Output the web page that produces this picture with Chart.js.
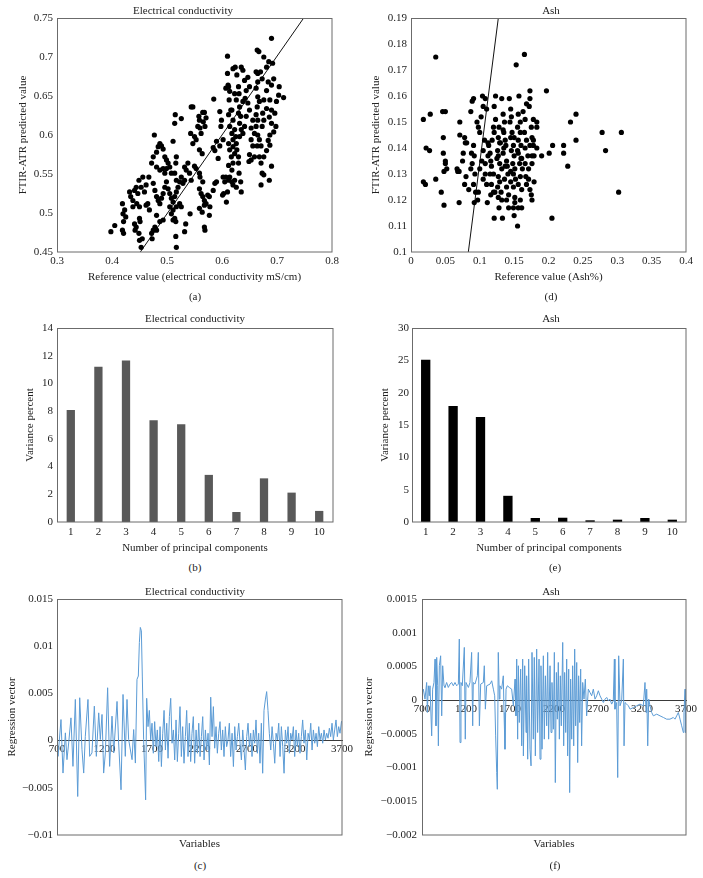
<!DOCTYPE html>
<html>
<head>
<meta charset="utf-8">
<title>FTIR-ATR PLS results</title>
<script src="https://cdn.jsdelivr.net/npm/chart.js@4.4.1/dist/chart.umd.min.js"></script>
<style>
  html, body { margin: 0; padding: 0; background: #fff; }
  #page { position: relative; width: 703px; height: 878px; overflow: hidden; background: #fff; }
  .panel { position: absolute; }
  .tag {
    position: absolute; width: 40px; margin-left: -20px; text-align: center;
    font: 11px/13px "Liberation Serif", "Times New Roman", serif; color: #222;
  }
</style>
</head>
<body>
<div id="page">
  <div class="panel" style="left:0;top:0;width:366px;height:284px"><canvas id="chartA"></canvas></div>
  <div class="panel" style="left:352px;top:0;width:398px;height:284px"><canvas id="chartD"></canvas></div>
  <div class="panel" style="left:0;top:300px;width:390px;height:255px"><canvas id="chartB"></canvas></div>
  <div class="panel" style="left:352px;top:300px;width:398px;height:255px"><canvas id="chartE"></canvas></div>
  <div class="panel" style="left:0;top:575px;width:390px;height:276px"><canvas id="chartC"></canvas></div>
  <div class="panel" style="left:352px;top:575px;width:398px;height:276px"><canvas id="chartF"></canvas></div>

  <div class="tag" style="left:195px;top:290px">(a)</div>
  <div class="tag" style="left:551px;top:290px">(d)</div>
  <div class="tag" style="left:195px;top:561px">(b)</div>
  <div class="tag" style="left:555px;top:561px">(e)</div>
  <div class="tag" style="left:200px;top:859px">(c)</div>
  <div class="tag" style="left:555px;top:859px">(f)</div>
</div>

<script>
// ---- (a) electrical conductivity: reference vs predicted ----
const ecRef = [
  0.398,0.405,0.419,0.420,0.421,0.419,0.421,0.423,0.425,0.432,
  0.434,0.438,0.441,0.444,0.445,0.449,0.447,0.450,0.453,0.456,
  0.459,0.462,0.438,0.441,0.442,0.444,0.450,0.451,0.449,0.450,
  0.453,0.455,0.472,0.475,0.478,0.481,0.473,0.465,0.468,0.462,
  0.467,0.472,0.475,0.477,0.481,0.484,0.487,0.490,0.493,0.496,
  0.499,0.481,0.487,0.493,0.496,0.499,0.502,0.505,0.508,0.511,
  0.475,0.478,0.481,0.484,0.487,0.490,0.493,0.496,0.499,0.502,
  0.505,0.508,0.511,0.514,0.517,0.520,0.517,0.514,0.523,0.526,
  0.529,0.532,0.517,0.516,0.514,0.515,0.526,0.508,0.511,0.514,
  0.516,0.493,0.487,0.481,0.505,0.511,0.517,0.523,0.526,0.516,
  0.517,0.532,0.534,0.542,0.532,0.535,0.538,0.543,0.544,0.547,
  0.550,0.547,0.553,0.556,0.558,0.559,0.560,0.562,0.565,0.568,
  0.571,0.566,0.569,0.559,0.564,0.550,0.553,0.541,0.544,0.559,
  0.560,0.565,0.559,0.562,0.565,0.568,0.571,0.574,0.559,0.564,
  0.568,0.577,0.578,0.577,0.568,0.569,0.584,0.587,0.590,0.584,
  0.587,0.590,0.585,0.596,0.599,0.598,0.602,0.596,0.593,0.602,
  0.605,0.607,0.601,0.603,0.608,0.610,0.610,0.611,0.607,0.612,
  0.614,0.613,0.616,0.612,0.618,0.620,0.614,0.618,0.620,0.612,
  0.614,0.617,0.620,0.618,0.612,0.614,0.618,0.620,0.623,0.626,
  0.612,0.610,0.623,0.625,0.626,0.627,0.630,0.623,0.620,0.624,
  0.620,0.627,0.630,0.631,0.623,0.626,0.632,0.630,0.634,0.632,
  0.635,0.632,0.630,0.631,0.634,0.635,0.638,0.641,0.644,0.638,
  0.642,0.635,0.638,0.641,0.644,0.647,0.650,0.647,0.650,0.653,
  0.656,0.659,0.653,0.656,0.650,0.649,0.653,0.659,0.662,0.665,
  0.664,0.667,0.670,0.673,0.665,0.662,0.665,0.668,0.664,0.662,
  0.665,0.662,0.665,0.668,0.664,0.671,0.668,0.671,0.673,0.676,
  0.674,0.681,0.676,0.681,0.684,0.681,0.676,0.685,0.690,0.692,
  0.694,0.690,0.687,0.690,0.686,0.690,0.687,0.684,0.687,0.681,
  0.676,0.673,0.676,0.671,0.686,0.690,0.696,0.698,0.694,0.699,
  0.704,0.703,0.712
];
const ecPred = [
  0.476,0.484,0.512,0.499,0.489,0.478,0.474,0.504,0.495,0.527,
  0.521,0.516,0.529,0.533,0.512,0.542,0.525,0.508,0.533,0.546,
  0.527,0.536,0.508,0.486,0.478,0.482,0.493,0.489,0.474,0.465,
  0.456,0.467,0.474,0.478,0.482,0.478,0.467,0.512,0.504,0.510,
  0.546,0.564,0.572,0.600,0.578,0.585,0.589,0.586,0.582,0.572,
  0.568,0.559,0.555,0.557,0.551,0.557,0.564,0.559,0.551,0.592,
  0.538,0.529,0.521,0.516,0.512,0.519,0.525,0.533,0.540,0.531,
  0.525,0.519,0.514,0.521,0.527,0.533,0.542,0.551,0.540,0.546,
  0.538,0.542,0.572,0.564,0.615,0.626,0.621,0.499,0.491,0.493,
  0.489,0.491,0.489,0.497,0.508,0.504,0.508,0.512,0.508,0.470,
  0.456,0.476,0.486,0.499,0.559,0.555,0.564,0.602,0.636,0.636,
  0.598,0.589,0.594,0.611,0.624,0.619,0.609,0.602,0.629,0.629,
  0.622,0.617,0.611,0.581,0.576,0.560,0.557,0.551,0.542,0.551,
  0.546,0.540,0.531,0.525,0.521,0.516,0.512,0.523,0.506,0.501,
  0.510,0.521,0.508,0.497,0.482,0.478,0.529,0.538,0.540,0.584,
  0.580,0.592,0.646,0.630,0.619,0.611,0.594,0.586,0.570,0.546,
  0.540,0.546,0.523,0.525,0.514,0.701,0.679,0.664,0.660,0.662,
  0.656,0.645,0.632,0.626,0.632,0.619,0.611,0.602,0.594,0.589,
  0.581,0.572,0.564,0.555,0.561,0.546,0.540,0.536,0.542,0.533,
  0.542,0.527,0.607,0.598,0.589,0.581,0.572,0.576,0.585,0.687,
  0.685,0.677,0.662,0.653,0.653,0.645,0.636,0.628,0.624,0.615,
  0.607,0.598,0.564,0.551,0.540,0.527,0.602,0.611,0.624,0.643,
  0.647,0.687,0.683,0.670,0.657,0.674,0.662,0.641,0.632,0.609,
  0.619,0.602,0.594,0.586,0.575,0.566,0.568,0.572,0.681,0.679,
  0.709,0.707,0.681,0.672,0.668,0.660,0.649,0.643,0.636,0.626,
  0.619,0.611,0.600,0.594,0.586,0.586,0.572,0.564,0.611,0.619,
  0.628,0.634,0.645,0.657,0.668,0.687,0.700,0.694,0.724,0.692,
  0.672,0.664,0.645,0.632,0.623,0.615,0.600,0.593,0.587,0.580,
  0.572,0.551,0.549,0.536,0.542,0.560,0.628,0.611,0.604,0.643,
  0.662,0.651,0.648
];
// trend line end points
const ecFitX = [0.4515, 0.7485];
const ecFitY = [0.45, 0.75];

// ---- (d) ash: reference vs predicted ----
const ashRef = [
  0.036,0.018,0.028,0.022,0.027,0.018,0.021,0.036,0.044,0.048,
  0.046,0.050,0.047,0.047,0.050,0.050,0.052,0.048,0.067,0.068,
  0.070,0.071,0.071,0.070,0.075,0.076,0.078,0.079,0.081,0.080,
  0.078,0.084,0.087,0.089,0.091,0.091,0.088,0.089,0.092,0.087,
  0.093,0.091,0.094,0.092,0.097,0.098,0.096,0.098,0.100,0.102,
  0.104,0.105,0.108,0.110,0.107,0.105,0.103,0.100,0.108,0.108,
  0.105,0.110,0.111,0.112,0.113,0.115,0.116,0.112,0.117,0.120,
  0.115,0.117,0.120,0.116,0.122,0.121,0.123,0.121,0.123,0.120,
  0.121,0.127,0.129,0.126,0.127,0.129,0.132,0.127,0.129,0.126,
  0.131,0.127,0.132,0.128,0.133,0.132,0.134,0.136,0.134,0.137,
  0.138,0.134,0.139,0.137,0.141,0.136,0.139,0.142,0.139,0.142,
  0.143,0.145,0.146,0.144,0.147,0.145,0.149,0.146,0.150,0.148,
  0.151,0.149,0.152,0.149,0.151,0.149,0.151,0.150,0.155,0.153,
  0.156,0.157,0.159,0.155,0.159,0.156,0.160,0.156,0.161,0.158,
  0.162,0.159,0.156,0.161,0.159,0.156,0.161,0.165,0.163,0.166,
  0.168,0.165,0.168,0.166,0.170,0.166,0.171,0.167,0.171,0.168,
  0.173,0.173,0.172,0.175,0.176,0.173,0.176,0.178,0.183,0.183,
  0.178,0.178,0.183,0.179,0.176,0.173,0.175,0.176,0.179,0.190,
  0.197,0.201,0.206,0.205,0.222,0.222,0.228,0.232,0.240,0.240,
  0.278,0.283,0.302,0.306,
  0.125,0.135,0.145,0.155,0.130,0.140,0.150,0.160,0.135,0.145,0.118,0.128
];
const ashPred = [
  0.175,0.151,0.153,0.140,0.139,0.127,0.126,0.128,0.123,0.118,
  0.154,0.154,0.144,0.138,0.135,0.134,0.132,0.131,0.132,0.131,
  0.131,0.150,0.145,0.119,0.135,0.138,0.144,0.142,0.142,0.129,
  0.126,0.124,0.154,0.158,0.159,0.141,0.138,0.134,0.137,0.132,
  0.130,0.126,0.123,0.119,0.120,0.123,0.150,0.148,0.146,0.152,
  0.160,0.156,0.159,0.155,0.143,0.139,0.135,0.132,0.134,0.130,
  0.128,0.126,0.119,0.142,0.141,0.138,0.135,0.137,0.133,0.130,
  0.130,0.126,0.123,0.122,0.123,0.113,0.160,0.156,0.151,0.148,
  0.146,0.144,0.142,0.139,0.137,0.134,0.132,0.129,0.127,0.125,
  0.123,0.121,0.120,0.117,0.113,0.159,0.153,0.150,0.147,0.143,
  0.141,0.138,0.135,0.133,0.130,0.128,0.125,0.122,0.120,0.117,
  0.159,0.155,0.152,0.150,0.146,0.144,0.141,0.139,0.137,0.134,
  0.132,0.130,0.128,0.125,0.121,0.117,0.119,0.114,0.110,0.172,
  0.153,0.160,0.150,0.148,0.146,0.143,0.141,0.138,0.136,0.134,
  0.132,0.129,0.126,0.124,0.120,0.117,0.117,0.176,0.154,0.151,
  0.157,0.146,0.143,0.140,0.137,0.134,0.132,0.129,0.128,0.126,
  0.162,0.159,0.156,0.148,0.144,0.141,0.137,0.151,0.150,0.148,
  0.143,0.141,0.140,0.137,0.134,0.124,0.122,0.120,0.127,0.137,
  0.162,0.138,0.141,0.113,0.141,0.138,0.133,0.150,0.153,0.143,
  0.146,0.139,0.123,0.146,
  0.136,0.140,0.131,0.139,0.142,0.133,0.144,0.136,0.146,0.127,0.143,0.148
];
const ashFitX = [0.0834, 0.127];
const ashFitY = [0.10, 0.19];

// ---- (b), (e) variance per principal component ----
const components = ['1', '2', '3', '4', '5', '6', '7', '8', '9', '10'];
const ecVariance = [8.08, 11.2, 11.65, 7.35, 7.05, 3.4, 0.72, 3.15, 2.12, 0.8];
const ashVariance = [25.1, 17.95, 16.25, 4.05, 0.62, 0.66, 0.26, 0.36, 0.62, 0.36];

// ---- (c) electrical conductivity regression vector ----
const ecVarX = [
  700,711,742,763,788,805,823,847,868,893,
  918,939,963,981,998,1026,1044,1068,1093,1114,
  1139,1156,1174,1191,1209,1233,1254,1279,1297,1332,
  1349,1374,1395,1419,1437,1454,1490,1507,1525,1542,
  1556,1567,1577,1588,1598,1612,1633,
  1644,1658,1672,1686,1700,1714,1728,1742,1756,1771,
  1785,1799,1813,1827,1841,1855,1869,1883,1897,1911,
  1925,1939,1953,1967,1981,1995,2009,2023,2037,2051,
  2065,2079,2093,2107,2121,2135,2149,2164,2178,2192,
  2206,2220,2234,2248,2262,2276,2290,2304,2318,2332,
  2346,2360,2374,2388,2402,2416,2430,2444,2458,2472,
  2486,2500,2514,2528,2543,2557,2571,2585,2599,2613,
  2627,2641,2655,2669,2683,2697,
  2711,2725,2739,2753,2767,2781,2795,2809,2823,2837,
  2851,2865,2879,2893,2907,2921,2935,2950,2964,2978,
  2992,3006,3020,3034,3048,3062,3076,3090,3104,3118,
  3132,3146,3160,3174,3188,3202,3216,3230,3244,3258,
  3272,3286,3300,3314,3329,3343,3357,3371,3385,3399,
  3413,3427,3441,3455,3469,3483,3497,3511,3525,3539,
  3553,3567,3581,3595,3609,3623,3637,3651,3665,3679,
  3695
];
const ecVector = [
  0.00046,-0.00167,0.00223,-0.00344,0.00082,-0.00202,-0.00025,0.00241,-0.00273,0.00436,
  -0.00592,0.00454,-0.00096,-0.00344,0.00046,0.00436,-0.00167,-0.00131,0.00365,-0.00167,
  0.00294,0.00011,0.00277,-0.00344,-0.00131,0.0056,-0.00273,0.00259,-0.00131,0.00415,
  -0.00025,-0.00521,0.00489,-0.00167,0.00436,0.00011,-0.00202,0.00117,-0.00238,0.00649,
  0.00684,0.01039,0.01199,0.01163,0.00684,0.00011,-0.00628,
  0.00448,0.00148,0.0032,0.00007,0.00184,-0.00134,0.00201,-0.00064,0.00113,-0.00222,
  0.00148,-0.00275,0.00078,0.0032,-0.001,0.00184,-0.00187,0.00254,0.00448,-0.00028,
  0.00113,-0.00205,0.00219,-0.00222,0.00078,0.0036,-0.00169,0.00148,-0.0024,0.00042,
  0.0032,-0.00169,0.00184,-0.00222,0.00078,0.00254,-0.0024,0.00113,-0.00134,0.00184,
  -0.00169,0.00042,0.00254,-0.00205,0.00113,-0.001,0.00078,-0.00258,0.0046,0.00042,
  0.0036,-0.00081,0.00148,-0.00134,0.00078,0.00201,-0.001,0.00113,-0.00169,0.00148,
  -0.00064,0.00007,0.00184,-0.00169,0.00078,-0.00275,0.00148,-0.001,0.00042,0.00184,
  -0.00028,-0.00205,0.00113,-0.001,-0.00311,0.00042,
  0.00184,-0.00064,0.00078,-0.00169,0.00113,-0.00028,0.00219,-0.00134,0.00078,-0.0024,
  0.00184,-0.00346,0.0032,0.00431,0.00519,0.0032,0.00078,-0.001,0.00148,-0.00028,
  -0.0024,0.00078,0.00007,0.00184,-0.00169,0.00148,-0.00064,-0.00346,0.00113,-0.00028,
  0.00148,-0.00134,0.00078,0.00007,0.00148,-0.00169,0.00113,-0.00064,0.00078,-0.00134,
  0.00042,0.00219,-0.00028,0.00113,-0.00205,0.00078,0.00007,0.00184,-0.001,0.00113,
  -0.00028,0.00078,-0.00064,0.00148,0.00007,0.00078,-0.00028,0.00113,0.00007,0.00078,
  0.00025,0.00131,0.00042,0.00184,0.00007,0.00113,0.00219,0.00042,0.00148,0.00078,
  0.00206
];

// ---- (f) ash regression vector ----
const ashVarX = [
  700,715,734,753,761,772,783,791,810,821,
  836,848,859,867,878,886,897,912,924,935,
  950,961,980,999,1018,1037,1056,1075,1094,1113,
  1124,1132,1143,1158,1181,1192,1200,1227,1245,1264,
  1276,1283,1302,1329,1340,1352,1367,1397,1408,1420,
  1435,1473,1492,1511,1526,1537,1549,1556,1567,1579,
  1586,1605,1624,1632,1643,1655,1670,1692,1719,1738,
  1757,1768,1776,1787,1795,1806,1821,1833,1844,1852,
  1867,1882,1889,1901,1912,1927,1939,1950,1965,1976,
  1988,2003,2014,2030,2041,2052,2064,2079,2090,2102,
  2117,2128,2139,2155,2166,2177,2193,2204,2215,2227,
  2238,2249,2261,2272,2283,2299,2310,2321,2333,2344,
  2355,2367,2378,2389,2401,2412,2424,2435,2446,2458,
  2469,2480,2492,2503,2514,2526,2541,2556,2571,2590,
  2609,2628,2647,2666,2685,2704,2723,2742,2761,2780,
  2799,2818,2836,2855,2874,2886,2893,2912,2924,2935,
  2950,2969,2988,2996,3007,3026,3045,3064,3102,3139,
  3177,3215,3234,3246,3253,3265,3276,3291,3310,3329,
  3367,3405,3443,3480,3518,3556,3575,3594,3613,3632,
  3651,3670,3677,3689,3696,3700
];
const ashVector = [
  0.000089,0.000163,0.000015,0.000262,-0.000183,0.000213,0.000064,0.000213,-0.00053,0.000163,
  0.000262,0.000609,-0.000381,0.000634,0.000213,-0.000678,0.00051,0.000658,-0.000233,0.00051,
  0.000213,0.000188,0.000262,0.000188,0.000238,0.000262,0.000213,0.000262,0.000213,0.000238,
  0.000906,-0.000629,0.000262,0.000213,0.000782,-0.000579,0.000262,0.000188,0.000262,0.000708,
  -0.000381,0.000262,0.000238,0.000361,0.000708,-0.000381,0.000238,0.000262,0.00051,-0.000134,
  0.000213,0.000238,0.000287,0.000163,0.000064,-0.00053,-0.001074,-0.001322,0.000708,0.000015,
  0.000213,0.000163,0.000361,-0.000183,-0.000728,0.000163,0.000213,0.000188,0.000163,-0.000084,
  0.000312,-0.000233,0.000609,-0.000579,0.00051,-0.000332,0.00046,-0.000678,0.000609,-0.000827,
  0.00051,-0.00048,0.000361,-0.000876,0.000609,-0.000728,-0.000975,0.000708,-0.000579,0.000634,
  -0.000827,0.000757,-0.00048,0.000609,-0.000876,0.00051,-0.000728,0.000658,-0.000579,0.000361,
  -0.000381,0.000708,-0.000579,0.00051,-0.00048,0.000262,-0.000431,0.000708,-0.001223,0.000411,
  -0.000282,0.000559,-0.000579,0.000361,-0.000381,0.000856,-0.000678,0.000411,-0.00048,0.000609,
  -0.000827,0.00046,-0.001371,0.000312,-0.000579,0.00051,-0.000678,0.000757,-0.000381,0.000559,
  -0.000926,0.000361,-0.000332,0.00046,-0.000678,0.000262,0.000015,0.000312,-0.000233,0.000163,
  0.000114,0.000064,0.000163,0.000015,0.000064,0.000139,0.000064,0.000015,-0.000035,0.000015,
  0.00004,-0.00001,0.000015,-0.000059,-0.00001,0.000609,-0.000134,-0.000035,-0.001148,0.000658,
  -0.000084,-0.00001,0.000609,-0.000678,-0.000035,-0.000059,-0.000084,-0.000134,-0.000109,-0.000084,
  -0.000059,-0.000084,0.000262,-0.000183,0.000163,-0.000678,0.000015,-0.000084,-0.000183,-0.000233,
  -0.000208,-0.000233,-0.000257,-0.000282,-0.000282,-0.000257,-0.000282,-0.000233,-0.000183,-0.000282,
  -0.000381,-0.00048,-0.000183,0.000163,-0.00048,0.000015
];

// ---- general look ----
Chart.defaults.font.family = '"Liberation Serif", "Times New Roman", serif';
Chart.defaults.font.size = 11;
Chart.defaults.color = '#222';
Chart.defaults.animation = false;
Chart.defaults.plugins.legend.display = false;
Chart.defaults.plugins.tooltip.enabled = false;

const lineBlue = '#5b9bd5';

// box around the plot area, like the spreadsheet original
const framePlugin = {
  id: 'frame',
  afterDraw(chart) {
    const a = chart.chartArea;
    const ctx = chart.ctx;
    ctx.save();
    ctx.strokeStyle = '#6b6b6b';
    ctx.lineWidth = 1;
    const l = Math.round(a.left) + 0.5, t = Math.round(a.top) + 0.5;
    ctx.strokeRect(l, t, Math.round(a.right) - l, Math.round(a.bottom) - t);
    ctx.restore();
  }
};

// 0.50 -> "0.5", -0.005 -> "−0.005"
function fmt(v) {
  const n = Number(Number(v).toFixed(6));
  return (n < 0 ? '\u2212' : '') + Math.abs(n);
}

function pairs(xs, ys) {
  return xs.map((x, i) => ({ x: x, y: ys[i] }));
}

function titleOpts(text, top, bottom) {
  return { display: true, text: text, color: '#222', font: { size: 11, weight: 'normal' }, padding: { top: top, bottom: bottom } };
}

function leftAxis(min, max, step, title, titlePad, width, tickPad) {
  return {
    type: 'linear', position: 'left', min: min, max: max,
    grid: { display: false, drawTicks: false }, border: { display: false },
    ticks: { stepSize: step, padding: tickPad, callback: fmt },
    title: { display: true, text: title, padding: { top: titlePad, bottom: 0 } },
    afterFit: s => { s.width = width; }
  };
}

function bottomAxis(min, max, step, title, height, tickPad) {
  return {
    type: 'linear', position: 'bottom', min: min, max: max,
    grid: { display: false, drawTicks: false }, border: { display: false },
    ticks: { stepSize: step, padding: tickPad, callback: fmt, maxRotation: 0, autoSkip: false },
    title: { display: true, text: title, padding: { top: 0, bottom: 0 } },
    afterFit: s => { s.height = height; }
  };
}

// empty right-hand axis, only reserves room so the title sits where it should
function spacer(width) {
  return {
    type: 'linear', position: 'right',
    grid: { display: false, drawTicks: false }, border: { display: false },
    ticks: { display: false },
    afterFit: s => { s.width = width; }
  };
}

function scatterPanel(id, o) {
  return new Chart(document.getElementById(id), {
    type: 'scatter',
    data: {
      datasets: [
        { data: pairs(o.xs, o.ys), xAxisID: 'x', yAxisID: 'y', pointRadius: 2.6, pointBorderWidth: 0, backgroundColor: '#000' },
        { data: pairs(o.fitX, o.fitY), xAxisID: 'x', yAxisID: 'y', showLine: true, pointRadius: 0, borderColor: '#111', borderWidth: 1 }
      ]
    },
    options: {
      responsive: true, maintainAspectRatio: false,
      plugins: { title: titleOpts(o.title, 4.4, 0.4) },
      scales: {
        x: bottomAxis(o.xMin, o.xMax, o.xStep, o.xTitle, 32, 2.4),
        y: leftAxis(o.yMin, o.yMax, o.yStep, 'FTIR-ATR predicted value', o.yTitlePad, o.yWidth, 4),
        pad: spacer(o.spacer)
      }
    },
    plugins: [framePlugin]
  });
}

function barPanel(id, o) {
  return new Chart(document.getElementById(id), {
    type: 'bar',
    data: {
      labels: components,
      datasets: [{ data: o.values, xAxisID: 'x', yAxisID: 'y', backgroundColor: o.color, barPercentage: o.barPct, categoryPercentage: 1 }]
    },
    options: {
      responsive: true, maintainAspectRatio: false,
      plugins: { title: titleOpts(o.title, 12.4, 2.4) },
      scales: {
        x: {
          type: 'category', position: 'bottom',
          grid: { display: false, drawTicks: false }, border: { display: false },
          ticks: { padding: 3.4, maxRotation: 0, autoSkip: false },
          title: { display: true, text: 'Number of principal components', padding: { top: 0, bottom: 0 } },
          afterFit: s => { s.height = 33; }
        },
        y: leftAxis(0, o.yMax, o.yStep, 'Variance percent', o.yTitlePad, o.yWidth, o.tickPad),
        pad: spacer(o.spacer)
      }
    },
    plugins: [framePlugin]
  });
}

function vectorPanel(id, o) {
  return new Chart(document.getElementById(id), {
    type: 'line',
    data: {
      datasets: [{ data: pairs(o.xs, o.ys), xAxisID: 'x', yAxisID: 'y', borderColor: lineBlue, borderWidth: 1, pointRadius: 0, tension: 0 }]
    },
    options: {
      responsive: true, maintainAspectRatio: false,
      plugins: { title: titleOpts(o.title, 10.1, 0.7) },
      scales: {
        x: {
          type: 'linear', position: { y: 0 }, min: 700, max: 3700,
          grid: { display: false, drawTicks: false },
          border: { display: true, color: '#3a3a3a', width: 1 },
          ticks: { stepSize: 500, padding: 2, maxRotation: 0, autoSkip: false, callback: v => String(v) }
        },
        y: leftAxis(o.yMin, o.yMax, o.yStep, 'Regression vector', o.yTitlePad, o.yWidth, o.tickPad),
        xt: {
          type: 'linear', position: 'bottom',
          grid: { display: false, drawTicks: false }, border: { display: false },
          ticks: { display: false },
          title: { display: true, text: 'Variables', padding: { top: 0, bottom: 0 } },
          afterFit: s => { s.height = 16; }
        },
        pad: spacer(o.spacer)
      }
    },
    plugins: [framePlugin]
  });
}

scatterPanel('chartA', {
  title: 'Electrical conductivity', xs: ecRef, ys: ecPred, fitX: ecFitX, fitY: ecFitY,
  xMin: 0.3, xMax: 0.8, xStep: 0.1, xTitle: 'Reference value (electrical conductivity mS/cm)',
  yMin: 0.45, yMax: 0.75, yStep: 0.05, yTitlePad: 16.4, yWidth: 57, spacer: 34
});
scatterPanel('chartD', {
  title: 'Ash', xs: ashRef, ys: ashPred, fitX: ashFitX, fitY: ashFitY,
  xMin: 0, xMax: 0.4, xStep: 0.05, xTitle: 'Reference value (Ash%)',
  yMin: 0.1, yMax: 0.19, yStep: 0.01, yTitlePad: 17.4, yWidth: 59, spacer: 64
});
barPanel('chartB', {
  title: 'Electrical conductivity', values: ecVariance, color: '#595959', barPct: 0.3,
  yMax: 14, yStep: 2, yTitlePad: 23.4, yWidth: 57, tickPad: 4, spacer: 57
});
barPanel('chartE', {
  title: 'Ash', values: ashVariance, color: '#000000', barPct: 0.34,
  yMax: 30, yStep: 5, yTitlePad: 26.4, yWidth: 60, tickPad: 3, spacer: 64
});
vectorPanel('chartC', {
  title: 'Electrical conductivity', xs: ecVarX, ys: ecVector,
  yMin: -0.01, yMax: 0.015, yStep: 0.005, yTitlePad: 5.4, yWidth: 57, tickPad: 4, spacer: 48
});
vectorPanel('chartF', {
  title: 'Ash', xs: ashVarX, ys: ashVector,
  yMin: -0.002, yMax: 0.0015, yStep: 0.0005, yTitlePad: 10.4, yWidth: 70, tickPad: 5, spacer: 64
});
</script>
</body>
</html>
